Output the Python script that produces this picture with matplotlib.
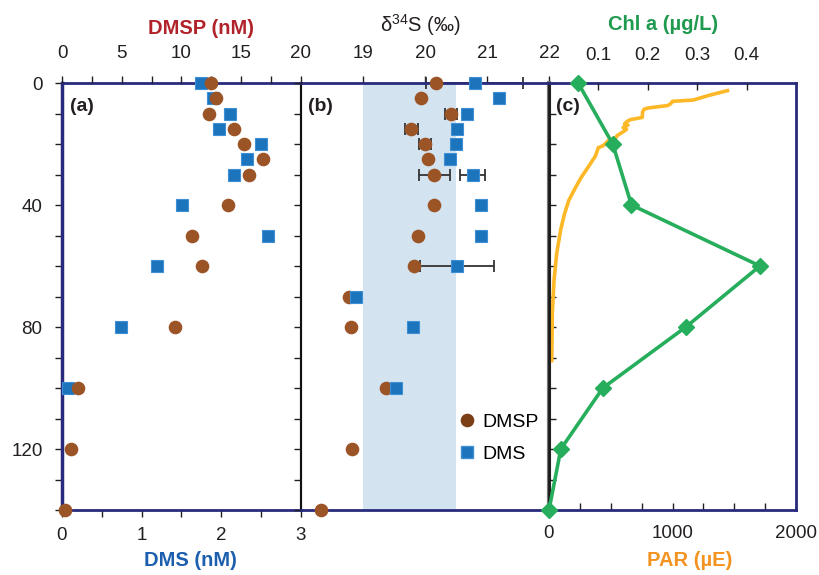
import numpy as np
import matplotlib
matplotlib.use("Agg")
import matplotlib.pyplot as plt
from matplotlib.lines import Line2D

plt.rcParams["font.family"] = ["Liberation Sans", "DejaVu Sans"]
plt.rcParams["mathtext.fontset"] = "custom"
plt.rcParams["mathtext.rm"] = "Liberation Sans"

NAVY   = "#282a7c"
BROWN  = "#9b5426"
BLUE   = "#1c74bc"
GREEN  = "#27ae5c"
ORANGE = "#fdb827"
BAND   = "#d3e3ef"
INK    = "#231f20"

# ---- panel (a): concentrations ----
depth_a_dmsp = [0, 5, 10, 15, 20, 25, 30, 40, 50, 60, 80, 100, 120, 140]
dmsp_nm      = [12.5, 12.85, 12.3, 14.4, 15.2, 16.85, 15.65, 13.85, 10.9, 11.7, 9.45, 1.3, 0.75, 0.25]
depth_a_dms  = [0, 5, 10, 15, 20, 25, 30, 40, 50, 60, 80, 100]
dms_nm       = [1.74, 1.90, 2.11, 1.97, 2.50, 2.32, 2.16, 1.51, 2.59, 1.19, 0.74, 0.07]

# ---- panel (b): d34S ----
depth_b_dmsp = [0, 5, 10, 15, 20, 25, 30, 40, 50, 60, 70, 80, 100, 120, 140]
d34s_dmsp    = [20.17, 19.94, 20.42, 19.78, 20.0, 20.05, 20.15, 20.15, 19.89, 19.82, 18.77, 18.8, 19.37, 18.83, 18.33]
dmsp_err     = [0, 0, 0.1, 0.1, 0.1, 0, 0.25, 0, 0, 0, 0, 0, 0, 0, 0]
depth_b_dms  = [0, 5, 10, 15, 20, 25, 30, 40, 50, 60, 70, 80, 100]
d34s_dms     = [20.8, 21.2, 20.67, 20.52, 20.5, 20.4, 20.77, 20.91, 20.91, 20.52, 18.88, 19.81, 19.53]
dms_err      = [0.78, 0, 0, 0, 0, 0, 0.2, 0, 0, 0.6, 0, 0, 0]
seawater_band = (19.0, 20.5)

# ---- panel (c): Chl a and PAR ----
depth_chl = [0, 20, 40, 60, 80, 100, 120, 140]
chl_a     = [0.059, 0.129, 0.167, 0.427, 0.277, 0.109, 0.024, 0.0]
depth_par = [2.5, 4.0, 5.6, 6.0, 6.8, 7.4, 8.2, 8.6, 9.5, 11.3, 12.0, 12.6, 13.4, 13.8, 14.6,
             15.2, 16.4, 17.2, 18.0, 18.9, 20.5, 21.2, 24.0, 27.5, 31.0, 35.0, 38.5, 43.0,
             48.0, 55.7, 64.6, 75.4, 91.0]
par       = [1445, 1300, 1166, 1000, 985, 960, 800, 770, 758, 755, 660, 632, 612, 640, 600,
             628, 585, 552, 540, 480, 440, 400, 375, 318, 260, 205, 160, 125,
             95, 63, 41, 27, 22]

W, H = 820, 575
fig = plt.figure(figsize=(W / 100, H / 100), dpi=100)
fig.patch.set_facecolor("white")

y0, y1 = 83, 510
def box(x0, x1):
    return [x0 / W, 1 - y1 / H, (x1 - x0) / W, (y1 - y0) / H]

ax_a = fig.add_axes(box(62, 301))
ax_b = fig.add_axes(box(301, 549))
ax_c = fig.add_axes(box(549, 796))
ax_a2 = ax_a.twiny()
ax_c2 = ax_c.twiny()

FS = 13.5
for ax in (ax_a, ax_b, ax_c, ax_a2, ax_c2):
    ax.set_ylim(140, 0)
    ax.set_facecolor("none")
    for s in ax.spines.values():
        s.set_visible(False)
    ax.tick_params(labelsize=FS, colors=INK, width=1.0, length=5)

def frame(ax, left_color, left_lw, right_color, right_lw):
    for side in ("top", "bottom"):
        ax.spines[side].set_visible(True)
        ax.spines[side].set_color(NAVY)
        ax.spines[side].set_linewidth(2.0)
    ax.spines["left"].set_visible(True)
    ax.spines["left"].set_color(left_color)
    ax.spines["left"].set_linewidth(left_lw)
    ax.spines["right"].set_visible(True)
    ax.spines["right"].set_color(right_color)
    ax.spines["right"].set_linewidth(right_lw)

frame(ax_a, NAVY, 2.5, "#111111", 1.5)
frame(ax_b, "#111111", 1.5, "#777777", 3.0)
frame(ax_c, "#1a1a1a", 2.0, NAVY, 2.0)

yt = np.arange(0, 141, 10)
ylab = [str(v) if v in (0, 40, 80, 120) else "" for v in yt]

# ---- (a) ----
ax_a.set_yticks(yt)
ax_a.set_yticklabels(ylab)
ax_a.tick_params(axis="y", direction="out", pad=9)
ax_a.set_xlim(0, 3)
ax_a.set_xticks(np.arange(0, 3.01, 0.5))
ax_a.set_xticklabels(["0", "", "1", "", "2", "", "3"])
ax_a.tick_params(axis="x", direction="out", pad=7)
ax_a2.set_xlim(0, 20)
ax_a2.set_xticks(np.arange(0, 20.1, 2.5))
ax_a2.set_xticklabels(["0", "", "5", "", "10", "", "15", "", "20"])
ax_a2.tick_params(axis="x", direction="out", pad=10)

ax_a2.plot(dmsp_nm, depth_a_dmsp, "o", color=BROWN, ms=8.8, mec=BROWN, zorder=3, clip_on=False)
ax_a.plot(dms_nm, depth_a_dms, "s", color=BLUE, ms=8.0, mec="#3f8fd4", mew=0.8, zorder=4,
          clip_on=False)
ax_a.text(0.035, 0.965, "(a)", transform=ax_a.transAxes, fontsize=14, fontweight="bold",
          color=INK, ha="left", va="top")

# ---- (b) ----
ax_b.set_xlim(18, 22)
ax_b.xaxis.set_ticks_position("top")
ax_b.set_xticks([19, 20, 21, 22])
ax_b.tick_params(axis="x", direction="out", pad=10, labeltop=True, labelbottom=False)
ax_b.set_yticks(yt)
ax_b.set_yticklabels([])
ax_b.tick_params(axis="y", direction="out")
ax_b.axvspan(*seawater_band, color=BAND, lw=0, zorder=0)

dmsp_err = np.array(dmsp_err)
dms_err = np.array(dms_err)
m1 = dmsp_err > 0
m2 = dms_err > 0
ax_b.errorbar(np.array(d34s_dmsp)[m1], np.array(depth_b_dmsp)[m1], xerr=dmsp_err[m1],
              fmt="none", ecolor="#333333", elinewidth=1.3, capsize=4, capthick=1.3, zorder=2,
              clip_on=False)
ax_b.errorbar(np.array(d34s_dms)[m2], np.array(depth_b_dms)[m2], xerr=dms_err[m2],
              fmt="none", ecolor="#333333", elinewidth=1.3, capsize=4, capthick=1.3, zorder=2,
              clip_on=False)
ax_b.plot(d34s_dmsp, depth_b_dmsp, "o", color=BROWN, ms=8.8, mec=BROWN, zorder=3, clip_on=False)
ax_b.plot(d34s_dms, depth_b_dms, "s", color=BLUE, ms=8.0, mec="#3f8fd4", mew=0.8, zorder=4,
          clip_on=False)
ax_b.text(0.03, 0.965, "(b)", transform=ax_b.transAxes, fontsize=14, fontweight="bold",
          color=INK, ha="left", va="top")
handles = [
    Line2D([], [], marker="o", ls="none", color="#7a3f15", ms=8.8, label="DMSP"),
    Line2D([], [], marker="s", ls="none", color=BLUE, mec="#3f8fd4", ms=8.0, label="DMS"),
]
ax_b.legend(handles=handles, loc="center left", bbox_to_anchor=(0.6, 0.168), frameon=False,
            fontsize=14, handlelength=0.8, handletextpad=0.35, labelspacing=0.75, borderpad=0)

# ---- (c) ----
ax_c.set_xlim(0, 2000)
ax_c.set_xticks(np.arange(0, 2001, 250))
ax_c.set_xticklabels(["0", "", "", "", "1000", "", "", "", "2000"])
ax_c.tick_params(axis="x", direction="in", pad=11)
ax_c.set_yticks(yt)
ax_c.set_yticklabels([])
ax_c.tick_params(axis="y", direction="in")
ax_c2.set_xlim(0, 0.5)
ax_c2.set_xticks([0.1, 0.2, 0.3, 0.4])
ax_c2.set_xticklabels(["0.1", "0.2", "0.3", "0.4"])
ax_c2.tick_params(axis="x", direction="in", pad=14)

ax_c.plot(par, depth_par, "-", color=ORANGE, lw=2.6, zorder=2)
ax_c2.plot(chl_a, depth_chl, "-D", color=GREEN, lw=2.6, ms=8.5, zorder=3, clip_on=False)
ax_c.text(0.03, 0.965, "(c)", transform=ax_c.transAxes, fontsize=14, fontweight="bold",
          color=INK, ha="left", va="top")

# ---- axis titles ----
fig.text(201 / W, 1 - 28 / H, "DMSP (nM)", color="#b1232b", fontsize=14.5, fontweight="bold",
         ha="center", va="center")
fig.text(190 / W, 1 - 561 / H, "DMS (nM)", color="#1c5fae", fontsize=14.5, fontweight="bold",
         ha="center", va="center")
fig.text(420 / W, 1 - 25 / H, r"δ$^{\mathrm{34}}$S (‰)", color=INK, fontsize=14.5,
         ha="center", va="center")
fig.text(663 / W, 1 - 25 / H, "Chl a (µg/L)", color="#1f9a4e", fontsize=14.5, fontweight="bold",
         ha="center", va="center")
fig.text(690 / W, 1 - 561 / H, "PAR (µE)", color="#f39321", fontsize=14.5, fontweight="bold",
         ha="center", va="center")

fig.savefig("out.png", dpi=100, facecolor="white")
